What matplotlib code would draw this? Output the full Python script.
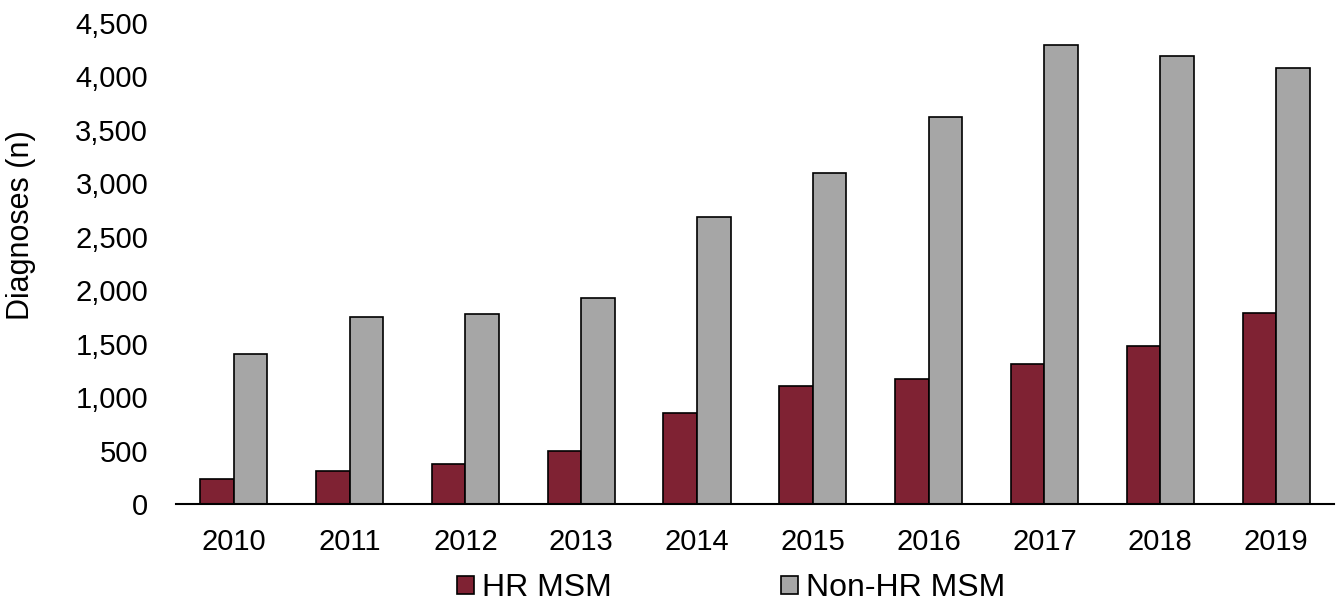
import numpy as np
from matplotlib import pyplot as plt

years = ["2010", "2011", "2012", "2013", "2014", "2015", "2016", "2017", "2018", "2019"]
hr_msm = [230, 305, 372, 495, 850, 1103, 1168, 1307, 1481, 1787]
non_hr_msm = [1400, 1748, 1776, 1925, 2682, 3093, 3617, 4297, 4194, 4076]

plt.rcParams['font.family'] = ['Liberation Sans', 'DejaVu Sans']

fig = plt.figure(figsize=(13.36, 6.04), dpi=100)
ax = fig.add_axes([0.1317, 0.1656, 0.8668, 0.7964])

x = np.arange(len(years))
w = 0.29
ax.bar(x - w / 2, hr_msm, w, color='#7f2233', edgecolor='black', linewidth=1.2, label='HR MSM')
ax.bar(x + w / 2, non_hr_msm, w, color='#a6a6a6', edgecolor='black', linewidth=1.2, label='Non-HR MSM')

ax.set_xlim(-0.5, len(years) - 0.5)
ax.set_ylim(0, 4500)
ax.set_yticks(np.arange(0, 4501, 500))
ax.set_yticklabels([f"{v:,}" for v in range(0, 4501, 500)])
ax.set_xticks(x)
ax.set_xticklabels(years)
ax.tick_params(axis='both', length=0, labelsize=21)
ax.tick_params(axis='y', pad=20)
ax.tick_params(axis='x', pad=17)

for s in ['top', 'right', 'left']:
    ax.spines[s].set_visible(False)
ax.spines['bottom'].set_linewidth(1.5)

ax.set_ylabel("Diagnoses (n)", fontsize=22)
ax.yaxis.set_label_coords(-0.121, 0.58)

fig.legend(loc='center', bbox_to_anchor=(0.547, 0.026), ncol=2, frameon=False,
           fontsize=23, handlelength=0.53, handleheight=0.53, handletextpad=0.25,
           columnspacing=5.3, borderpad=0)

fig.savefig("out.png", dpi=100)
